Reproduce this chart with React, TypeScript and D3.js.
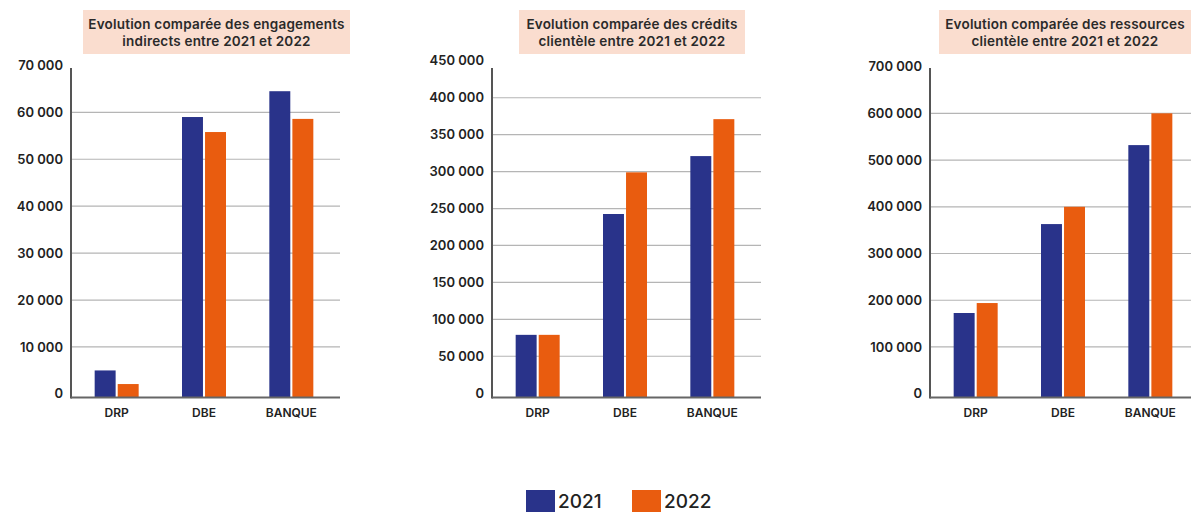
import React from "react";
import * as d3 from "d3";

const categories = ["DRP", "DBE", "BANQUE"];
const series = ["2021", "2022"];

const engagements2021 = [5000, 59000, 64500];
const engagements2022 = [2100, 55800, 58600];
const engagementsTicks = [0, 10000, 20000, 30000, 40000, 50000, 60000, 70000];

const credits2021 = [79000, 242600, 321000];
const credits2022 = [79000, 299000, 371000];
const creditsTicks = [0, 50000, 100000, 150000, 200000, 250000, 300000, 350000, 400000, 450000];

const ressources2021 = [172700, 363000, 532000];
const ressources2022 = [194000, 400000, 600000];
const ressourcesTicks = [0, 100000, 200000, 300000, 400000, 500000, 600000, 700000];

const titles = [
  ["Evolution comparée des engagements", "indirects entre 2021 et 2022"],
  ["Evolution comparée des crédits", "clientèle entre 2021 et 2022"],
  ["Evolution comparée des ressources", "clientèle entre 2021 et 2022"],
];

const COLORS = ["#29338A", "#E95C0F"];
const FONT = "Inter, 'Open Sans', sans-serif";

const charts = [
  { title: titles[0], v2021: engagements2021, v2022: engagements2022, ticks: engagementsTicks, axisX: 71, titleBox: [83, 350], yRange: [393.9, 65.4] },
  { title: titles[1], v2021: credits2021, v2022: credits2022, ticks: creditsTicks, axisX: 492, titleBox: [519, 745], yRange: [393.2, 60.8] },
  { title: titles[2], v2021: ressources2021, v2022: ressources2022, ticks: ressourcesTicks, axisX: 930, titleBox: [939, 1191], yRange: [393.7, 66.6] },
];

const fmt = (v: number) => d3.format(",")(v).replace(/,/g, " ");

const BASE_Y = 397.5;
const AXIS_TOP = 68;
const PLOT_W = 269;

function Chart({ c }: { c: (typeof charts)[number] }) {
  const maxTick = c.ticks[c.ticks.length - 1];
  const y = d3.scaleLinear().domain([0, maxTick]).range(c.yRange);
  const x0 = d3.scaleBand().domain(categories).range([c.axisX + 2, c.axisX + 264]);
  const x1 = d3.scaleBand().domain(series).range([0, 44]).paddingInner(0.09);
  const vals = [c.v2021, c.v2022];
  const right = c.axisX + PLOT_W;
  const tcx = (c.titleBox[0] + c.titleBox[1]) / 2;
  return (
    <g>
      <rect x={c.titleBox[0]} y={10} width={c.titleBox[1] - c.titleBox[0]} height={44} fill="#FADDCF" />
      {c.title.map((t, i) => (
        <text key={i} x={tcx} y={24 + i * 17.5} dy="0.35em" textAnchor="middle" fontFamily={FONT} fontWeight={600} fontSize={13.5} letterSpacing={0.2} fill="#2a2a2a">
          {t}
        </text>
      ))}
      {c.ticks.slice(1, -1).map((t) => (
        <line key={t} x1={c.axisX} x2={right} y1={y(t)} y2={y(t)} stroke="#b5b5b5" strokeWidth={1.2} />
      ))}
      {c.ticks.map((t) => (
        <text key={"l" + t} x={c.axisX - 8} y={y(t)} dy="0.35em" textAnchor="end" fontFamily={FONT} fontWeight={600} fontSize={13} fill="#222">
          {fmt(t)}
        </text>
      ))}
      {categories.map((cat, ci) =>
        series.map((s, si) => {
          const bx = (x0(cat) as number) + x0.bandwidth() / 2 - 22 + (x1(s) as number);
          const top = y(vals[si][ci]);
          return <rect key={cat + s} x={bx} y={top} width={x1.bandwidth()} height={BASE_Y - top} fill={COLORS[si]} />;
        })
      )}
      {categories.map((cat) => (
        <text key={"c" + cat} x={(x0(cat) as number) + x0.bandwidth() / 2} y={412.5} dy="0.35em" textAnchor="middle" fontFamily={FONT} fontWeight={600} fontSize={12} fill="#222">
          {cat}
        </text>
      ))}
      <line x1={c.axisX} x2={c.axisX} y1={AXIS_TOP} y2={BASE_Y + 1} stroke="#555" strokeWidth={2} />
      <line x1={c.axisX} x2={right} y1={BASE_Y} y2={BASE_Y} stroke="#666" strokeWidth={2} />
    </g>
  );
}

export default function App() {
  const legendX = [526, 632];
  return (
    <svg width={1191} height={512} style={{ position: "absolute", left: 0, top: 0, background: "#fff" }}>
      {charts.map((c, i) => (
        <Chart key={i} c={c} />
      ))}
      {series.map((s, i) => (
        <g key={s}>
          <rect x={legendX[i]} y={490} width={29} height={22} fill={COLORS[i]} />
          <text x={legendX[i] + 32} y={508} fontFamily={FONT} fontWeight={500} fontSize={19} fill="#222">
            {s}
          </text>
        </g>
      ))}
    </svg>
  );
}
